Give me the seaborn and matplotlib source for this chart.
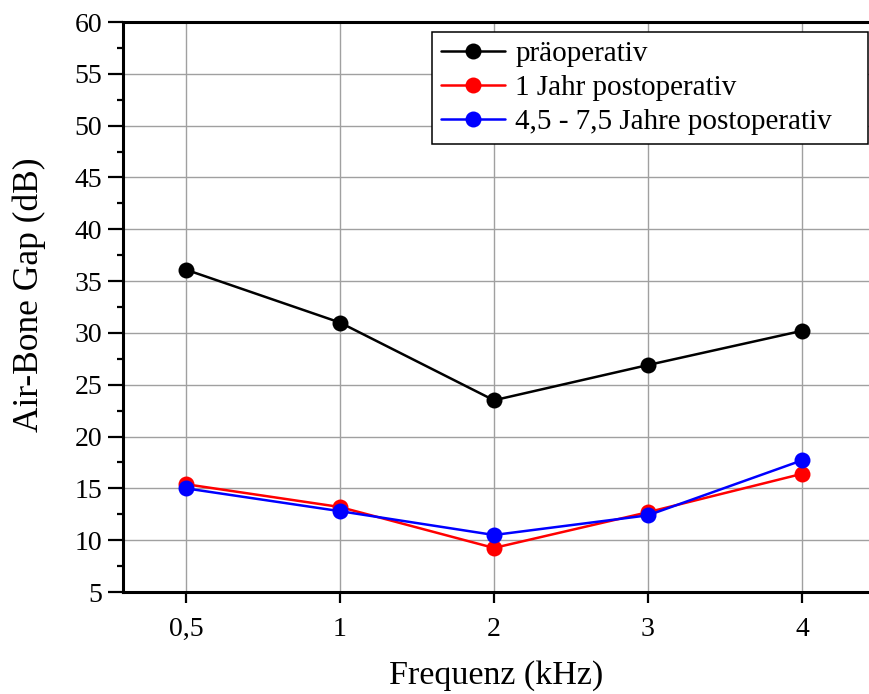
import matplotlib
matplotlib.use("Agg")
import matplotlib.pyplot as plt
import seaborn as sns
import pandas as pd
from matplotlib.ticker import MultipleLocator

frequencies = ["0,5", "1", "2", "3", "4"]
series_names = ["präoperativ", "1 Jahr postoperativ", "4,5 - 7,5 Jahre postoperativ"]
pre_op = [36.1, 31.0, 23.5, 26.9, 30.2]
post_1y = [15.4, 13.2, 9.25, 12.7, 16.4]
post_long = [15.0, 12.8, 10.5, 12.4, 17.7]
colors = ["#000000", "#ff0000", "#0000ff"]

rows = []
for name, vals in zip(series_names, [pre_op, post_1y, post_long]):
    for f, v in zip(frequencies, vals):
        rows.append({"Frequenz": f, "Wert": v, "Serie": name})
df = pd.DataFrame(rows)

sns.set_theme(style="white")
plt.rcParams["font.family"] = ["Liberation Serif", "DejaVu Serif"]

fig = plt.figure(figsize=(8.7, 6.94), dpi=100)
ax = fig.add_axes([123 / 870, 1 - 592 / 694, 1 - 123 / 870, (592 - 22) / 694])

sns.lineplot(data=df, x="Frequenz", y="Wert", hue="Serie", hue_order=series_names,
             palette=colors, marker="o", markersize=11.5, markeredgewidth=0,
             linewidth=1.8, sort=False, ax=ax)

ax.set_xlim(-0.409, 4.442)
ax.set_ylim(5, 60)
ax.yaxis.set_major_locator(MultipleLocator(5))
ax.yaxis.set_minor_locator(MultipleLocator(2.5))

ax.grid(True, which="major", color="#a0a0a0", linewidth=1.0)
ax.set_axisbelow(True)

for s in ["left", "bottom", "top"]:
    ax.spines[s].set_visible(True)
    ax.spines[s].set_color("black")
    ax.spines[s].set_linewidth(2.2)
ax.spines["right"].set_visible(False)

ax.tick_params(axis="y", which="major", direction="out", length=11, width=1.6,
               color="black", labelsize=20, labelcolor="black", pad=4, left=True)
ax.tick_params(axis="y", which="minor", direction="out", length=4, width=1.6,
               color="black", left=True)
ax.tick_params(axis="x", which="major", direction="out", length=8, width=1.6,
               color="black", labelsize=20, labelcolor="black", pad=10, bottom=True)

ax.set_xlabel("Frequenz (kHz)", fontsize=24.5, color="black", labelpad=13)
ax.set_ylabel("Air-Bone Gap (dB)", fontsize=25.5, color="black")
ax.yaxis.set_label_coords((46 - 123) / 747, (592 - 295) / 570)

leg = ax.legend(loc="upper left",
                bbox_to_anchor=(432 / 870, 1 - 138 / 694, (868 - 432) / 870, (138 - 32) / 694),
                bbox_transform=fig.transFigure, mode="expand", fontsize=21, frameon=True,
                fancybox=False, framealpha=1, edgecolor="black",
                handlelength=2.2, labelspacing=0.26, borderpad=0.3,
                handletextpad=0.36, borderaxespad=0)
leg.get_frame().set_linewidth(1.1)
for t in leg.get_texts():
    t.set_color("black")

fig.savefig("out.png", dpi=100)
